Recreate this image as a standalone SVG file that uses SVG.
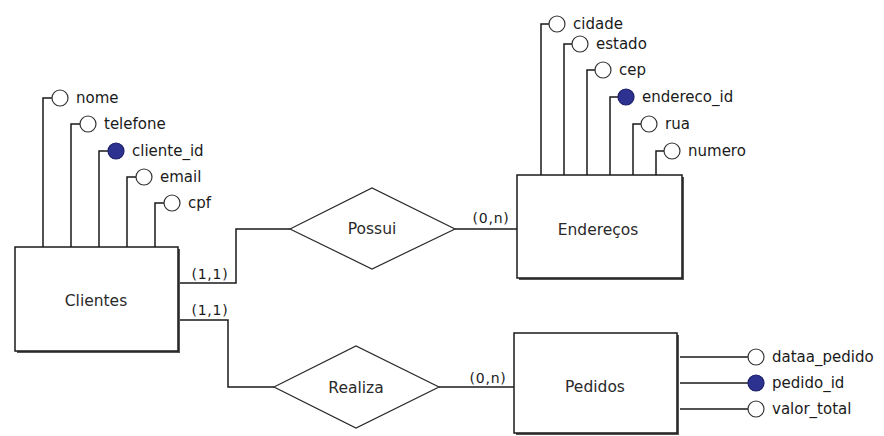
<svg xmlns="http://www.w3.org/2000/svg" width="884" height="436" viewBox="0 0 884 436">
  <style>
    .box { fill: #ffffff; stroke: #1a1a1a; stroke-width: 1.5; }
    .shadow { fill: #555555; }
    .rel { fill: #ffffff; stroke: #2a2a2a; stroke-width: 1.2; }
    .line { fill: none; stroke: #1a1a1a; stroke-width: 1.5; }
    .attr { fill: #ffffff; stroke: #333333; stroke-width: 1.2; }
    .key { fill: #2d3190; stroke: #1c1f66; stroke-width: 1.2; }
    .label { font-family: "DejaVu Sans", Verdana, sans-serif; font-size: 15.5px; fill: #2a2a2a; text-anchor: middle; dominant-baseline: central; }
    .atext { font-family: "DejaVu Sans", Verdana, sans-serif; font-size: 15px; fill: #1a1a1a; dominant-baseline: central; }
    .card { font-family: "DejaVu Sans", Verdana, sans-serif; font-size: 14px; letter-spacing: 0.8px; fill: #1a1a1a; text-anchor: middle; }
  </style>

  <rect width="884" height="436" fill="#ffffff"/>

  <!-- relationship connectors -->
  <g id="connectors">
    <polyline class="line" points="180,283 236,283 236,229 290,229"/>
    <polyline class="line" points="455,229 517,229"/>
    <polyline class="line" points="180,320 228,320 228,387 274,387"/>
    <polyline class="line" points="439,387 514,387"/>
    <text class="card" x="210" y="279">(1,1)</text>
    <text class="card" x="210" y="315">(1,1)</text>
    <text class="card" x="491" y="223">(0,n)</text>
    <text class="card" x="488" y="383">(0,n)</text>
  </g>

  <!-- Clientes entity with its attributes -->
  <g id="clientes">
    <path class="line" d="M43,247 V98 H52 M71,247 V124 H80 M99,247 V151 H108 M127,247 V177 H136 M155,247 V203 H164"/>
    <circle class="attr" cx="60" cy="98" r="8"/>
    <circle class="attr" cx="88" cy="124" r="8"/>
    <circle class="key" cx="116" cy="151" r="8"/>
    <circle class="attr" cx="144" cy="177" r="8"/>
    <circle class="attr" cx="172" cy="203" r="8"/>
    <text class="atext" x="76" y="98">nome</text>
    <text class="atext" x="104" y="124">telefone</text>
    <text class="atext" x="132" y="151">cliente_id</text>
    <text class="atext" x="160" y="177">email</text>
    <text class="atext" x="188" y="203">cpf</text>
    <rect class="shadow" x="17" y="249" width="163" height="104"/>
    <rect class="box" x="15" y="247" width="163" height="104"/>
    <text class="label" x="96" y="301">Clientes</text>
  </g>

  <!-- Enderecos entity with its attributes -->
  <g id="enderecos">
    <path class="line" d="M541,175 V24 H549 M564,175 V44 H572 M587,175 V70 H595 M610,175 V97 H618 M633,175 V124 H641 M656,175 V151 H664"/>
    <circle class="attr" cx="557" cy="24" r="8"/>
    <circle class="attr" cx="580" cy="44" r="8"/>
    <circle class="attr" cx="603" cy="70" r="8"/>
    <circle class="key" cx="626" cy="97" r="8"/>
    <circle class="attr" cx="649" cy="124" r="8"/>
    <circle class="attr" cx="672" cy="151" r="8"/>
    <text class="atext" x="573" y="24">cidade</text>
    <text class="atext" x="596" y="44">estado</text>
    <text class="atext" x="619" y="70">cep</text>
    <text class="atext" x="642" y="97">endereco_id</text>
    <text class="atext" x="665" y="124">rua</text>
    <text class="atext" x="688" y="151">numero</text>
    <rect class="shadow" x="519" y="177" width="165" height="103"/>
    <rect class="box" x="517" y="175" width="165" height="103"/>
    <text class="label" x="598" y="230">Endereços</text>
  </g>

  <!-- Pedidos entity with its attributes -->
  <g id="pedidos">
    <path class="line" d="M680,357 H748 M680,383 H748 M680,409 H748"/>
    <circle class="attr" cx="756" cy="357" r="8"/>
    <circle class="key" cx="756" cy="383" r="8"/>
    <circle class="attr" cx="756" cy="409" r="8"/>
    <text class="atext" x="772" y="357">dataa_pedido</text>
    <text class="atext" x="772" y="383">pedido_id</text>
    <text class="atext" x="772" y="409">valor_total</text>
    <rect class="shadow" x="516" y="335" width="163" height="100"/>
    <rect class="box" x="514" y="333" width="163" height="100"/>
    <text class="label" x="595" y="387">Pedidos</text>
  </g>

  <!-- relationships -->
  <g id="possui">
    <polygon class="rel" points="290,229 372,188 455,229 372,269"/>
    <text class="label" x="372" y="229">Possui</text>
  </g>
  <g id="realiza">
    <polygon class="rel" points="274,387 356,346 439,387 356,428"/>
    <text class="label" x="356" y="388">Realiza</text>
  </g>
</svg>
